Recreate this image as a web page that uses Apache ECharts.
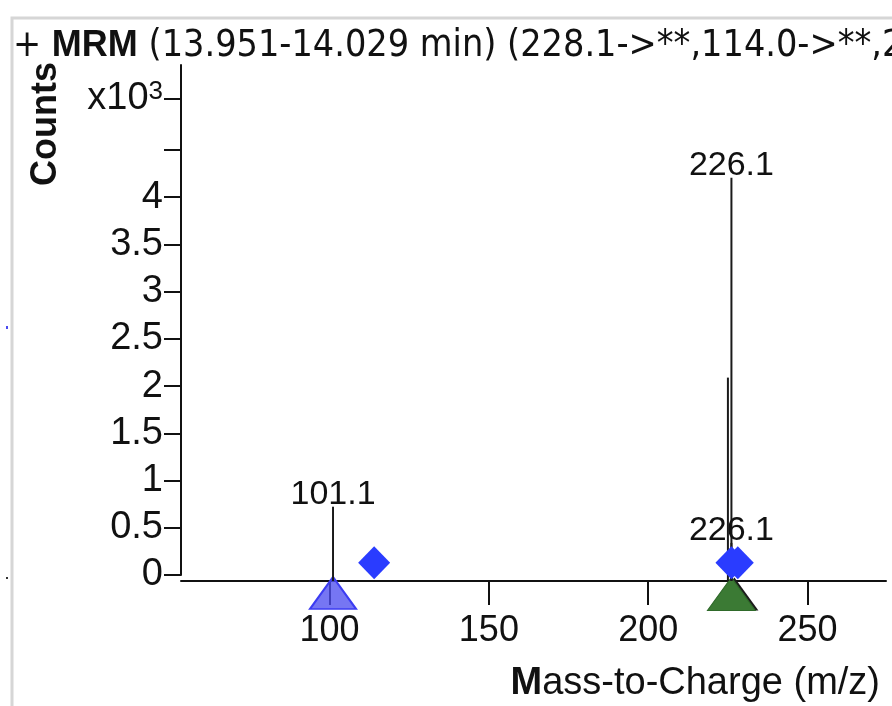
<!DOCTYPE html>
<html>
<head>
<meta charset="utf-8">
<script src="https://cdn.jsdelivr.net/npm/echarts@6/dist/echarts.min.js"></script>
<style>
  html, body { margin: 0; padding: 0; background: #fff; }
  #chart { width: 892px; height: 706px; }
</style>
</head>
<body>
<div id="chart"></div>
<script>
// MRM product-ion spectrum, 13.951-14.029 min

// x-axis tick values (m/z)
const mzTicks = [100, 150, 200, 250];
// y-axis tick values (counts) and the subset that carries a number
const countTicks = [0, 500, 1000, 1500, 2000, 2500, 3000, 3500, 4000, 4500];
const countLabels = [0, 500, 1000, 1500, 2000, 2500, 3000, 3500, 4000];
const exponentTick = 5040; // carries the "x10^3" scale marker

// spectrum sticks
const peakMz = [101.1, 225.0, 226.1, 226.1];
const peakCounts = [723, 2090, 4205, 340];
const peakLabeled = [true, false, true, true];

// precursor markers (diamonds)
const precursorMz = [114.0, 226.1, 228.1];
const precursorCounts = [130, 130, 130];

// product ion markers (triangles)
const productBlueMz = [101.1];
const productGreenMz = [226.1];

const FONT = '"Liberation Sans", Arial, sans-serif';
const NARROW = '"Liberation Sans Narrow", "Arial Narrow", "DejaVu Sans Condensed", sans-serif';
const AXIS_OFFSET = 6;

const chart = echarts.init(document.getElementById('chart'), null, { renderer: 'canvas' });

const option = {
  animation: false,
  backgroundColor: '#ffffff',
  title: {
    text: '+ {b|MRM} (13.951-14.029 min) (228.1->**,114.0->**,226.1->**)',
    left: 13,
    top: 28,
    padding: 0,
    textStyle: {
      fontFamily: NARROW,
      fontSize: 37.4,
      fontWeight: 'normal',
      color: '#111',
      rich: {
        b: { fontFamily: FONT, fontSize: 36, fontWeight: 'bold', color: '#111' }
      }
    }
  },
  grid: { left: 181, right: 6, top: 65, bottom: 131, containLabel: false },
  xAxis: {
    type: 'value',
    min: 53.4,
    max: 274.6,
    offset: AXIS_OFFSET,
    splitLine: { show: false },
    axisLine: { show: true, onZero: false, lineStyle: { color: '#111', width: 2 } },
    axisTick: { show: true, customValues: mzTicks, length: 24, lineStyle: { color: '#111', width: 2 } },
    axisLabel: {
      customValues: mzTicks,
      margin: 32,
      fontFamily: FONT,
      fontSize: 36,
      color: '#111'
    },
    name: '{b|M}ass-to-Charge (m/z)',
    nameLocation: 'end',
    nameGap: -6,
    nameTextStyle: {
      fontFamily: FONT,
      fontSize: 38,
      color: '#111',
      align: 'right',
      verticalAlign: 'top',
      padding: [84, 0, 0, 0],
      rich: { b: { fontFamily: FONT, fontSize: 38, fontWeight: 'bold', color: '#111' } }
    }
  },
  yAxis: {
    type: 'value',
    min: 0,
    max: 5400,
    splitLine: { show: false },
    axisLine: { show: true, lineStyle: { color: '#111', width: 2 } },
    axisTick: { show: true, customValues: countTicks.concat([exponentTick]), length: 17, lineStyle: { color: '#111', width: 2 } },
    axisLabel: {
      customValues: countLabels.concat([exponentTick]),
      margin: 18,
      fontFamily: FONT,
      fontSize: 38,
      color: '#111',
      formatter: function (v) {
        if (v === exponentTick) return '{n|x10}{s|3}';
        return String(v / 1000);
      },
      rich: {
        n: { fontFamily: FONT, fontSize: 38, color: '#111' },
        s: { fontFamily: FONT, fontSize: 26, color: '#111', verticalAlign: 'top', padding: [0, 0, 14, 0] }
      }
    }
  },
  graphic: [
    {
      type: 'polyline',
      shape: { points: [[12, 706], [12, 18], [892, 18]] },
      style: { stroke: '#d6d6d6', lineWidth: 3, fill: null },
      silent: true
    },
    { type: 'rect', shape: { x: 6, y: 326, width: 2, height: 3 }, style: { fill: '#4a4af0' }, silent: true },
    { type: 'rect', shape: { x: 6, y: 577, width: 2, height: 2 }, style: { fill: '#333' }, silent: true },
    {
      type: 'text',
      x: 46,
      y: 124,
      rotation: Math.PI / 2,
      style: {
        text: 'Counts',
        fontFamily: FONT,
        fontSize: 36,
        fontWeight: 'bold',
        fill: '#111',
        align: 'center',
        verticalAlign: 'middle'
      },
      silent: true
    }
  ],
  series: [
    {
      // triangles hang just below the baseline
      type: 'scatter',
      name: 'product-shadow',
      data: productGreenMz.map(function (m) { return [m, 0]; }),
      symbol: 'triangle',
      symbolSize: [48, 33],
      symbolOffset: [3, 19],
      itemStyle: { color: '#1b1b1b', opacity: 1 },
      z: 3
    },
    {
      type: 'scatter',
      name: 'product-green',
      data: productGreenMz.map(function (m) { return [m, 0]; }),
      symbol: 'triangle',
      symbolSize: [48, 33],
      symbolOffset: [0, 19],
      itemStyle: { color: '#3b7a34', borderColor: '#2f6a2a', borderWidth: 1, opacity: 1 },
      z: 4
    },
    {
      type: 'scatter',
      name: 'product-blue',
      data: productBlueMz.map(function (m) { return [m, 0]; }),
      symbol: 'triangle',
      symbolSize: [46, 32],
      symbolOffset: [0, 18],
      itemStyle: { color: 'rgba(80, 80, 240, 0.78)', borderColor: '#3c3cf2', borderWidth: 2, opacity: 1 },
      z: 4
    },
    {
      type: 'custom',
      name: 'spectrum',
      coordinateSystem: 'cartesian2d',
      clip: false,
      data: peakMz.map(function (m, i) { return [m, peakCounts[i], peakLabeled[i] ? 1 : 0]; }),
      renderItem: function (params, api) {
        const mz = api.value(0);
        const top = api.coord([mz, api.value(1)]);
        const base = api.coord([mz, 0]);
        const children = [{
          type: 'line',
          shape: { x1: top[0], y1: top[1], x2: top[0], y2: base[1] + AXIS_OFFSET },
          style: { stroke: '#1a1a1a', lineWidth: 2 }
        }];
        if (api.value(2)) {
          children.push({
            type: 'text',
            x: top[0],
            y: top[1] + 5,
            style: {
              text: mz.toFixed(1),
              fontFamily: FONT,
              fontSize: 34,
              fill: '#111',
              align: 'center',
              verticalAlign: 'bottom'
            }
          });
        }
        return { type: 'group', children: children };
      },
      z: 5
    },
    {
      type: 'scatter',
      name: 'precursor',
      data: precursorMz.map(function (m, i) { return [m, precursorCounts[i]]; }),
      symbol: 'diamond',
      symbolSize: [32, 33],
      itemStyle: { color: '#2a3cff', opacity: 1 },
      z: 6
    }
  ]
};

chart.setOption(option);
</script>
</body>
</html>
